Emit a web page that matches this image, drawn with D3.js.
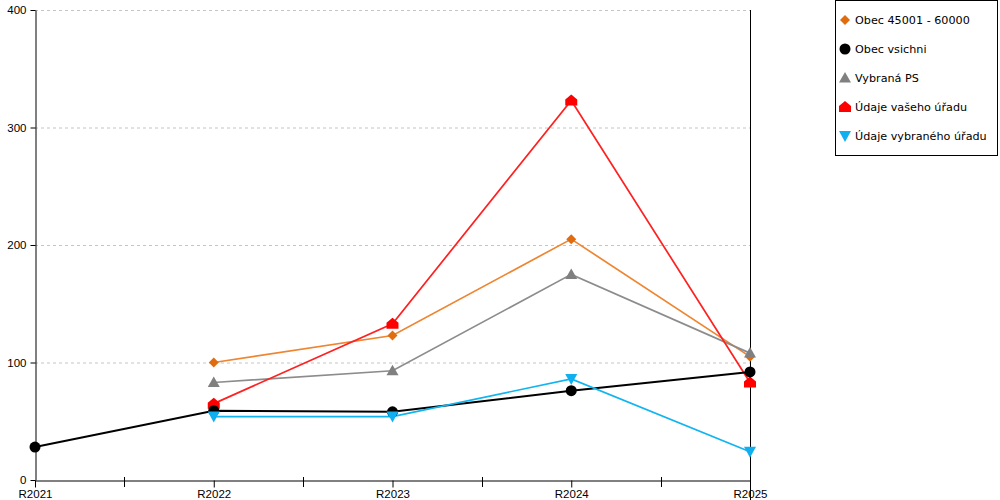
<!DOCTYPE html>
<html><head><meta charset="utf-8">
<script src="https://cdn.jsdelivr.net/npm/d3@7"></script>
<style>body{margin:0;background:#fff;}svg{display:block;font-family:"DejaVu Sans",Verdana,sans-serif;}</style>
</head><body><svg id="c" width="1000" height="500"></svg>
<script>
const categories = ["R2021","R2022","R2023","R2024","R2025"];
const yTicks = [0,100,200,300,400];
const seriesNames = ["Obec 45001 - 60000","Obec vsichni","Vybraná PS","Údaje vašeho úřadu","Údaje vybraného úřadu"];
const obec45001 = [null,100,123,205,105];
const obecVsichni = [28,59,58,76,92];
const vybranaPS = [null,83,93,175,108];
const vasehoUradu = [null,65,133,323,83];
const vybranehoUradu = [null,54,54,86,24];
const seriesValues = [obec45001, obecVsichni, vybranaPS, vasehoUradu, vybranehoUradu];
const lineColors = ["#ee8530","#000000","#8c8c8c","#ff2020","#10b4f0"];
const markColors = ["#e06c10","#000000","#808080","#ff0000","#10b0f0"];
const shapes = ["diamond","circle","triangle","house","down"];

const svg = d3.select("#c");
const L=35,R=750,T=10,B=480;
const x = d3.scalePoint().domain(categories).range([L,R]);
const y = d3.scaleLinear().domain([0,400]).range([B,T]);

// grid
svg.append("g").selectAll("line").data(yTicks.filter(d=>d>0)).join("line")
  .attr("x1",L).attr("x2",R).attr("y1",d=>y(d)+0.5).attr("y2",d=>y(d)+0.5)
  .attr("stroke","#c4c4c4").attr("stroke-dasharray","3,3");

// y axis
const ya = svg.append("g").attr("transform",`translate(${L+0.5},0)`)
  .call(d3.axisLeft(y).tickValues(yTicks).tickSize(5).tickSizeOuter(0));
ya.select(".domain").attr("stroke","#000");
ya.selectAll("text").attr("font-size",11.5).attr("fill","#000").attr("dx",-1);
// right line
svg.append("line").attr("x1",R+0.5).attr("x2",R+0.5).attr("y1",T).attr("y2",B+20).attr("stroke","#000");

// x axis
const xa = svg.append("g").attr("transform",`translate(0,${B+0.5})`)
  .call(d3.axisBottom(x).tickSize(7).tickSizeOuter(0).tickPadding(2));
xa.select(".domain").attr("stroke","#000");
xa.selectAll("text").attr("font-size",11.5).attr("fill","#000");
// minor ticks
const mids = categories.slice(1).map((c,i)=>(x(categories[i])+x(c))/2);
svg.append("g").selectAll("line").data(mids).join("line")
  .attr("x1",d=>Math.round(d)+0.5).attr("x2",d=>Math.round(d)+0.5).attr("y1",B-3).attr("y2",B+7).attr("stroke","#000");

function symPath(shape, cx, cy){
  switch(shape){
    case "diamond": return `M${cx},${cy-5}L${cx+5},${cy}L${cx},${cy+5}L${cx-5},${cy}Z`;
    case "triangle": return `M${cx},${cy-6}L${cx+6},${cy+4.5}L${cx-6},${cy+4.5}Z`;
    case "house": return `M${cx},${cy-6}L${cx+6},${cy-1}L${cx+6},${cy+5}L${cx-6},${cy+5}L${cx-6},${cy-1}Z`;
    case "down": return `M${cx-6},${cy-5}L${cx+6},${cy-5}L${cx},${cy+6}Z`;
  }
}
function drawMark(g, shape, cx, cy, color){
  if(shape==="circle"){
    g.append("circle").attr("cx",cx).attr("cy",cy).attr("r",5.5).attr("fill",color);
  } else {
    g.append("path").attr("d",symPath(shape,cx,cy)).attr("fill",color);
  }
}

const line = d3.line().defined(d=>d.v!=null).x(d=>x(d.c)).y(d=>y(d.v));
const order = [0,2,3,1,4];
order.forEach(i=>{
  const data = categories.map((c,j)=>({c, v: seriesValues[i][j]}));
  svg.append("path").datum(data).attr("d",line).attr("fill","none")
    .attr("stroke",lineColors[i]).attr("stroke-width", i===1?2:1.7);
});
order.forEach(i=>{
  const g = svg.append("g");
  categories.forEach((c,j)=>{
    const v = seriesValues[i][j];
    if(v!=null) drawMark(g, shapes[i], x(c), y(v), markColors[i]);
  });
});

// legend
const lg = svg.append("g");
lg.append("rect").attr("x",835.5).attr("y",0.5).attr("width",162).attr("height",155).attr("fill","#fff").attr("stroke","#000");
seriesNames.forEach((n,i)=>{
  const cy = 20 + i*29;
  const g = lg.append("g");
  drawMark(g, shapes[i], 845, cy, markColors[i]);
  lg.append("text").attr("x",855).attr("y",cy+4).attr("font-size",11.2).attr("fill","#000").text(n);
});
</script></body></html>
